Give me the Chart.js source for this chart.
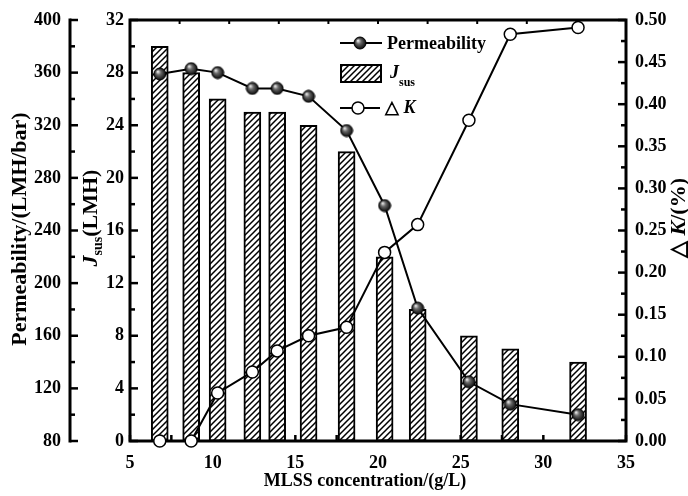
<!DOCTYPE html>
<html>
<head>
<meta charset="utf-8">
<script src="https://cdn.jsdelivr.net/npm/chart.js@4.4.0/dist/chart.umd.min.js"></script>
<style>
  html, body { margin: 0; padding: 0; background: #fff; }
  #wrap { width: 688px; height: 496px; }
</style>
</head>
<body>
<div id="wrap"><canvas id="mlssChart" width="688" height="496"></canvas></div>
<script>
// Values
const mlss = [6.8, 8.7, 10.3, 12.4, 13.9, 15.8, 18.1, 20.4, 22.4, 25.5, 28.0, 32.1];
const jsus = [30, 28, 26, 25, 25, 24, 22, 14, 10, 8, 7, 6];
const permeability = [359, 363, 360, 348, 348, 342, 316, 259, 181, 125, 108, 100];
const deltaK = [0, 0, 0.057, 0.082, 0.107, 0.125, 0.135, 0.224, 0.257, 0.381, 0.483, 0.491];

// Axis ranges: [min, max, step]
const xRange = [5, 35, 5];
const permRange = [80, 400, 40];
const jsusRange = [0, 32, 4];
const kRange = [0, 0.5, 0.05];
const topTickStep = 3;

const serif = "'Liberation Serif', 'Times New Roman', serif";
const tickFont = { family: serif, size: 18, weight: 'bold' };

const canvas = document.getElementById('mlssChart');
const mainCtx = canvas.getContext('2d');

// shaded ball marker for permeability
function makeBall(r) {
  const c = document.createElement('canvas');
  c.width = c.height = 2 * r + 2;
  const g = c.getContext('2d');
  const m = r + 1;
  const grad = g.createRadialGradient(m - r * 0.35, m - r * 0.4, r * 0.1, m, m, r);
  grad.addColorStop(0, '#e0e0e0');
  grad.addColorStop(0.35, '#6a6a6a');
  grad.addColorStop(1, '#0a0a0a');
  g.fillStyle = grad;
  g.beginPath();
  g.arc(m, m, r, 0, Math.PI * 2);
  g.fill();
  g.lineWidth = 1;
  g.strokeStyle = '#000';
  g.stroke();
  return c;
}

// "////" hatch for the J_sus bars
function makeHatch() {
  const s = 6;
  const c = document.createElement('canvas');
  c.width = c.height = s;
  const g = c.getContext('2d');
  g.fillStyle = '#fff';
  g.fillRect(0, 0, s, s);
  g.strokeStyle = '#000';
  g.lineWidth = 1.5;
  g.beginPath();
  g.moveTo(-1, s + 1); g.lineTo(s + 1, -1);
  g.moveTo(-1, 1); g.lineTo(1, -1);
  g.moveTo(s - 1, s + 1); g.lineTo(s + 1, s - 1);
  g.stroke();
  return mainCtx.createPattern(c, 'repeat');
}

const ball = makeBall(6);
const hatch = makeHatch();

function seg(ctx, x1, y1, x2, y2) {
  ctx.beginPath();
  ctx.moveTo(x1, y1);
  ctx.lineTo(x2, y2);
  ctx.stroke();
}

// ticks pointing sideways from a vertical axis, majors and half-step minors
function yTicks(ctx, scale, x, dir, range) {
  const [min, max, step] = range;
  const n = Math.round((max - min) / (step / 2));
  for (let i = 0; i <= n; i++) {
    const y = scale.getPixelForValue(min + i * step / 2);
    seg(ctx, x, y, x + dir * (i % 2 === 0 ? 8 : 5), y);
  }
}

// draw a line of text made of several font runs
function drawRuns(ctx, runs, x, y, rotate, align) {
  ctx.save();
  ctx.translate(x, y);
  if (rotate) ctx.rotate(-Math.PI / 2);
  ctx.fillStyle = '#000';
  ctx.textBaseline = 'middle';
  ctx.textAlign = 'left';
  let total = 0;
  runs.forEach(r => { ctx.font = r.font; r.w = ctx.measureText(r.text).width; total += r.w; });
  let cx = align === 'center' ? -total / 2 : 0;
  runs.forEach(r => {
    ctx.font = r.font;
    ctx.fillText(r.text, cx, r.dy || 0);
    cx += r.w;
  });
  ctx.restore();
}

const axesPlugin = {
  id: 'axesPlugin',
  beforeDatasetsDraw(chart) {
    const { ctx, chartArea: a, scales } = chart;
    ctx.save();
    ctx.strokeStyle = '#000';
    ctx.lineCap = 'square';
    ctx.lineWidth = 3;
    ctx.strokeRect(a.left, a.top, a.right - a.left, a.bottom - a.top);
    const px = scales.yP.right;
    seg(ctx, px, a.top, px, a.bottom);

    ctx.lineCap = 'butt';
    ctx.lineWidth = 2.5;
    yTicks(ctx, scales.yP, px, 1, permRange);
    yTicks(ctx, scales.yJ, a.left, 1, jsusRange);
    yTicks(ctx, scales.yK, a.right, -1, kRange);

    // bottom ticks (inward)
    const [xmin, xmax, xstep] = xRange;
    for (let v = xmin; v <= xmax + 1e-9; v += xstep / 2) {
      const x = scales.x.getPixelForValue(v);
      seg(ctx, x, a.bottom, x, a.bottom - 6);
    }
    // top ticks
    ctx.lineWidth = 2;
    for (let v = xmin + topTickStep; v < xmax; v += topTickStep) {
      const x = scales.x.getPixelForValue(v);
      seg(ctx, x, a.top, x, a.top + 4);
    }
    ctx.restore();
  },
  afterDraw(chart) {
    const { ctx } = chart;
    const b22 = 'bold 22px ' + serif;
    const bi22 = 'italic bold 22px ' + serif;
    const b18 = 'bold 18px ' + serif;
    const bi18 = 'italic bold 18px ' + serif;

    // axis titles
    drawRuns(ctx, [{ text: 'MLSS concentration/(g/L)', font: b18 }], 365, 481, false, 'center');
    drawRuns(ctx, [{ text: 'Permeability/(LMH/bar)', font: b22 }], 20, 229, true, 'center');
    drawRuns(ctx, [
      { text: 'J', font: bi22 },
      { text: 'sus', font: 'bold 14px ' + serif, dy: 7 },
      { text: '(LMH)', font: b22 }
    ], 91, 218, true, 'center');
    drawRuns(ctx, [
      { text: '\u25B3 ', font: b22 },
      { text: 'K', font: bi22 },
      { text: '/(%)', font: b22 }
    ], 679, 218, true, 'center');

    // legend
    ctx.save();
    ctx.strokeStyle = '#000';
    ctx.lineWidth = 2;
    seg(ctx, 340, 43, 382, 43);
    ctx.drawImage(ball, 360 - ball.width / 2, 43 - ball.height / 2);
    drawRuns(ctx, [{ text: 'Permeability', font: b18 }], 387, 44, false, 'left');

    ctx.fillStyle = hatch;
    ctx.fillRect(341, 65, 40, 17);
    ctx.strokeRect(341, 65, 40, 17);
    drawRuns(ctx, [
      { text: 'J', font: bi18 },
      { text: 'sus', font: 'bold 12px ' + serif, dy: 10 }
    ], 390, 73, false, 'left');

    seg(ctx, 340, 108, 380, 108);
    ctx.beginPath();
    ctx.arc(358, 108, 6, 0, Math.PI * 2);
    ctx.fillStyle = '#fff';
    ctx.fill();
    ctx.lineWidth = 1.5;
    ctx.stroke();
    drawRuns(ctx, [
      { text: '\u25B3 ', font: b18 },
      { text: 'K', font: bi18 }
    ], 385, 108, false, 'left');
    ctx.restore();
  }
};

const noGrid = { display: false, drawTicks: false };
const noBorder = { display: false };

new Chart(canvas, {
  type: 'bar',
  data: {
    datasets: [
      {
        type: 'line',
        label: 'Permeability',
        data: mlss.map((x, i) => ({ x: x, y: permeability[i] })),
        yAxisID: 'yP',
        borderColor: '#000',
        borderWidth: 2,
        tension: 0,
        pointStyle: ball,
        order: 1,
        clip: false
      },
      {
        type: 'bar',
        label: 'Jsus',
        data: mlss.map((x, i) => ({ x: x, y: jsus[i] })),
        yAxisID: 'yJ',
        backgroundColor: hatch,
        borderColor: '#000',
        borderWidth: 2,
        borderSkipped: false,
        barThickness: 17,
        order: 3
      },
      {
        type: 'line',
        label: 'ΔK',
        data: mlss.map((x, i) => ({ x: x, y: deltaK[i] })),
        yAxisID: 'yK',
        borderColor: '#000',
        borderWidth: 2,
        tension: 0,
        pointStyle: 'circle',
        pointRadius: 6,
        pointBackgroundColor: '#fff',
        pointBorderColor: '#000',
        pointBorderWidth: 1.5,
        order: 2,
        clip: false
      }
    ]
  },
  options: {
    responsive: false,
    animation: false,
    devicePixelRatio: 1,
    layout: { padding: { top: 20, left: 0, right: 0, bottom: 0 } },
    plugins: { legend: { display: false }, tooltip: { enabled: false } },
    scales: {
      x: {
        type: 'linear',
        position: 'bottom',
        min: xRange[0], max: xRange[1],
        offset: false,
        grid: { display: false, drawTicks: false, offset: false },
        border: noBorder,
        ticks: { stepSize: xRange[2], font: tickFont, color: '#000', padding: 12, autoSkip: false, maxRotation: 0 },
        afterFit(s) { s.height = 55; }
      },
      yP: {
        position: 'left',
        weight: 2,
        min: permRange[0], max: permRange[1],
        grid: noGrid, border: noBorder,
        ticks: { stepSize: permRange[2], font: tickFont, color: '#000', padding: 9 },
        afterFit(s) { s.width = 70; }
      },
      yJ: {
        position: 'left',
        weight: 1,
        min: jsusRange[0], max: jsusRange[1],
        grid: noGrid, border: noBorder,
        ticks: { stepSize: jsusRange[2], font: tickFont, color: '#000', padding: 6 },
        afterFit(s) { s.width = 60; }
      },
      yK: {
        position: 'right',
        min: kRange[0], max: kRange[1],
        grid: noGrid, border: noBorder,
        ticks: { stepSize: kRange[2], font: tickFont, color: '#000', padding: 9, callback: v => v.toFixed(2) },
        afterFit(s) { s.width = 62; }
      }
    }
  },
  plugins: [axesPlugin]
});
</script>
</body>
</html>
